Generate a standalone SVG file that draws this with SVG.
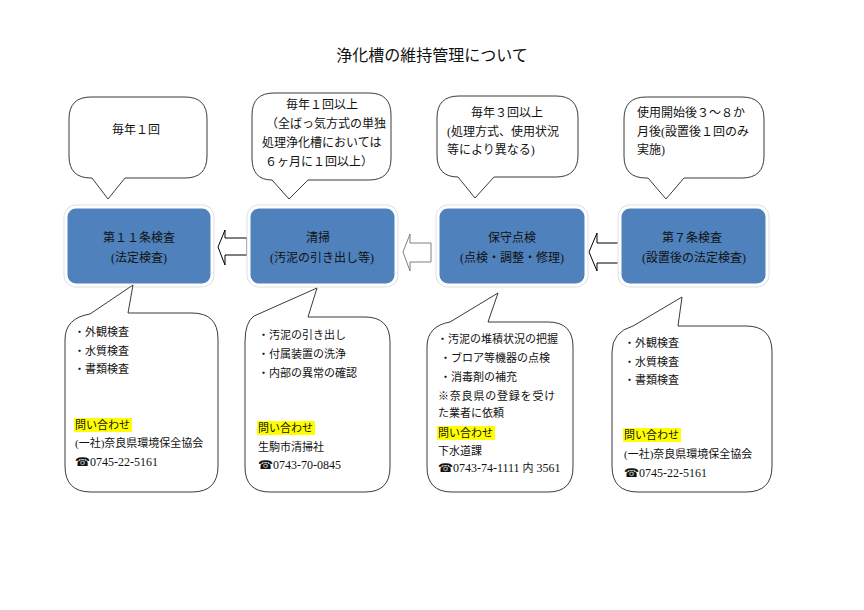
<svg xmlns="http://www.w3.org/2000/svg" width="864" height="610" viewBox="0 0 864 610">
<style>
text{font-family:"Liberation Serif","Noto Sans CJK JP",serif;fill:#111}
.t{font-size:16px}
.s{font-size:12px}
.b{font-size:11px}
.p{font-size:12px}
.m{text-anchor:middle}
.bub{fill:#fff;stroke:#3a3a3a;stroke-width:1}
.box{fill:#4f81bd;stroke:#fff;stroke-width:3}
.sh{fill:none;stroke:#dce1e7;stroke-width:5}
.arr{fill:#fff;stroke:#000;stroke-width:1}
.hl{fill:#ffff00}
</style>
<rect width="864" height="610" fill="#fff"/>
<text class="t m" x="432" y="61">浄化槽の維持管理について</text>

<g id="connectors">
<path class="arr" d="M218,247 L225,230 L225,238 L247,238 L247,255 L225,255 L225,265 Z"/>
<path class="arr" style="stroke:#808080" d="M403,252 L410,234 L410,243 L431,243 L431,262 L410,262 L410,271 Z"/>
<path class="arr" d="M589,252 L597,233 L597,243 L619,243 L619,263 L597,263 L597,271 Z"/>
</g>

<g id="box1">
<rect class="sh" x="66" y="207" width="146" height="78" rx="10"/>
<rect class="box" x="66" y="207" width="146" height="78" rx="10"/>
<text class="s m" x="139" y="242">第１１条検査</text>
<text class="s m" x="139" y="262">(法定検査)</text>
</g>
<g id="box2">
<rect class="sh" x="249" y="207" width="147" height="78" rx="10"/>
<rect class="box" x="249" y="207" width="147" height="78" rx="10"/>
<text class="s m" x="318" y="242">清掃</text>
<text class="s m" x="322" y="262">(汚泥の引き出し等)</text>
</g>
<g id="box3">
<rect class="sh" x="438" y="207" width="148" height="78" rx="10"/>
<rect class="box" x="438" y="207" width="148" height="78" rx="10"/>
<text class="s m" x="512" y="242">保守点検</text>
<text class="s m" x="512" y="262">(点検・調整・修理)</text>
</g>
<g id="box4">
<rect class="sh" x="620" y="207" width="147" height="78" rx="10"/>
<rect class="box" x="620" y="207" width="147" height="78" rx="10"/>
<text class="s m" x="692" y="242">第７条検査</text>
<text class="s m" x="694" y="262">(設置後の法定検査)</text>
</g>

<g id="top1">
<path class="bub" d="M91,97 H185 Q207,97 207,119 V156 Q207,178 185,178 H125 L108,199 L92,178 H91 Q69,178 69,156 V119 Q69,97 91,97 Z"/>
<text class="s m" x="136" y="134">毎年１回</text>
</g>
<g id="top2">
<path class="bub" d="M274,93 H369 Q391,93 391,115 V158 Q391,180 369,180 H308 L289,199 L272,180 Q252,180 252,158 V115 Q252,93 274,93 Z"/>
<text class="s m" x="322" y="109">毎年１回以上</text>
<text class="s" x="266" y="128">（全ばっ気方式の単独</text>
<text class="s" x="262" y="147">処理浄化槽においては</text>
<text class="s" x="265" y="166">６ヶ月に１回以上）</text>
</g>
<g id="top3">
<path class="bub" d="M459,96 H556 Q578,96 578,118 V155 Q578,177 556,177 H494 L475,198 L458,177 Q437,177 437,155 V118 Q437,96 459,96 Z"/>
<text class="s m" x="507" y="117">毎年３回以上</text>
<text class="s" x="447" y="136">(処理方式、使用状況</text>
<text class="s" x="447" y="154">等により異なる)</text>
</g>
<g id="top4">
<path class="bub" d="M646,97 H742 Q764,97 764,119 V156 Q764,178 742,178 H684 L666,199 L648,178 H646 Q624,178 624,156 V119 Q624,97 646,97 Z"/>
<text class="s" x="637" y="117">使用開始後３～８か</text>
<text class="s" x="637" y="136">月後(設置後１回のみ</text>
<text class="s" x="637" y="154">実施)</text>
</g>

<g id="bottom1">
<path class="bub" d="M90,314 L133,285 L128,313 H192 Q218,313 218,339 V466 Q218,492 192,492 H91 Q65,492 65,466 V340 Q65,318 90,314 Z"/>
<text class="b" x="74" y="336">・外観検査</text>
<text class="b" x="74" y="355">・水質検査</text>
<text class="b" x="74" y="373">・書類検査</text>
<rect class="hl" x="74" y="418" width="58" height="14"/>
<text class="b" x="75" y="429">問い合わせ</text>
<text class="b" x="75" y="447">(一社)奈良県環境保全協会</text>
<text class="p" x="75" y="466"><tspan font-family="DejaVu Sans">☎</tspan>0745-22-5161</text>
</g>
<g id="bottom2">
<path class="bub" d="M254,316 L317,288 L308,317 H365 Q390,317 390,342 V467 Q390,492 365,492 H270 Q245,492 245,467 V342 Q245,322 254,316 Z"/>
<text class="b" x="258" y="339">・汚泥の引き出し</text>
<text class="b" x="258" y="358">・付属装置の洗浄</text>
<text class="b" x="258" y="377">・内部の異常の確認</text>
<rect class="hl" x="257" y="421" width="58" height="14"/>
<text class="b" x="258" y="432">問い合わせ</text>
<text class="b" x="258" y="451">生駒市清掃社</text>
<text class="p" x="258" y="469"><tspan font-family="DejaVu Sans">☎</tspan>0743-70-0845</text>
</g>
<g id="bottom3">
<path class="bub" d="M450,322 L498,293 L488,322 H548 Q573,322 573,347 V467 Q573,492 548,492 H452 Q427,492 427,467 V347 Q427,326 450,322 Z"/>
<text class="b" x="437" y="343">・汚泥の堆積状況の把握</text>
<text class="b" x="440" y="362">・ブロア等機器の点検</text>
<text class="b" x="440" y="381">・消毒剤の補充</text>
<text class="b" x="438" y="400" letter-spacing="0.8">※奈良県の登録を受け</text>
<text class="b" x="438" y="417">た業者に依頼</text>
<rect class="hl" x="437" y="426" width="58" height="14"/>
<text class="b" x="438" y="437">問い合わせ</text>
<text class="b" x="438" y="455">下水道課</text>
<text class="p" x="438" y="472"><tspan font-family="DejaVu Sans">☎</tspan>0743-74-1111 <tspan font-size="11">内</tspan> 3561</text>
</g>
<g id="bottom4">
<path class="bub" d="M633,326 L682,297 L678,326 H746 Q772,326 772,352 V466 Q772,492 746,492 H638 Q612,492 612,466 V352 Q612,332 633,326 Z"/>
<text class="b" x="624" y="347">・外観検査</text>
<text class="b" x="624" y="366">・水質検査</text>
<text class="b" x="624" y="384">・書類検査</text>
<rect class="hl" x="623" y="428" width="58" height="14"/>
<text class="b" x="624" y="439">問い合わせ</text>
<text class="b" x="624" y="458">(一社)奈良県環境保全協会</text>
<text class="p" x="624" y="477"><tspan font-family="DejaVu Sans">☎</tspan>0745-22-5161</text>
</g>
</svg>
